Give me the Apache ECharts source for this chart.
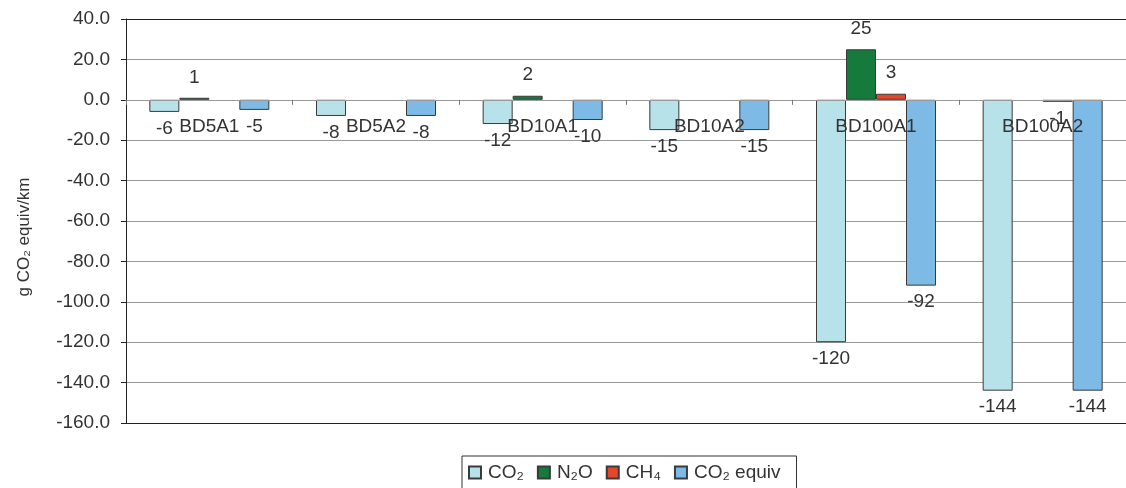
<!DOCTYPE html>
<html>
<head>
<meta charset="utf-8">
<title>CO₂ equivalent emissions per km</title>
<script src="https://cdn.jsdelivr.net/npm/echarts@6/dist/echarts.min.js"></script>
<style>
  html, body { margin: 0; padding: 0; background: #fff; }
  #chart { width: 1126px; height: 488px; }
</style>
</head>
<body>
<div id="chart"></div>
<script>
// Scenarios along the category axis
const categories = ['BD5A1', 'BD5A2', 'BD10A1', 'BD10A2', 'BD100A1', 'BD100A2'];

// Emissions by gas, g CO₂ equiv/km (null = nothing plotted)
const co2Values      = [-6, -8, -12, -15, -120, -144];
const n2oValues      = [1, null, 2, null, 25, null];
const ch4Values      = [null, null, null, null, 3, -1];
const co2EquivValues = [-5, -8, -10, -15, -92, -144];

// Value axis range
const yMin = -160;
const yMax = 40;
const yStep = 20;

const FONT = '"Liberation Sans", Arial, sans-serif';
const TEXT = '#333';

const GRID_TOP = 19;
const GRID_HEIGHT = 404;
// Shift the category axis up from the bottom edge to the zero line
const zeroOffset = -GRID_HEIGHT * (0 - yMin) / (yMax - yMin);

// Labels sit above positive bars and below negative ones
function toItems(values) {
  return values.map(v => v == null ? null : {
    value: v,
    label: { position: v < 0 ? 'bottom' : 'top', distance: v < 0 ? 7 : 11 }
  });
}

function barSeries(name, values, color) {
  return {
    name: name,
    type: 'bar',
    data: toItems(values),
    barGap: '0%',
    barCategoryGap: '28%',
    itemStyle: { color: color, borderColor: '#3a3a3a', borderWidth: 1 },
    label: {
      show: true,
      formatter: '{c}',
      color: TEXT,
      fontFamily: FONT,
      fontSize: 19
    }
  };
}

// Plain dark rule along the top or bottom edge of the plot
function edgeAxis(position) {
  return {
    type: 'category',
    data: categories,
    position: position,
    axisLine: { show: true, onZero: false, lineStyle: { color: '#222', width: 1 } },
    axisTick: { show: false },
    axisLabel: { show: false },
    splitLine: { show: false }
  };
}

const chart = echarts.init(document.getElementById('chart'), null, { renderer: 'canvas' });

chart.setOption({
  animation: false,
  backgroundColor: '#fff',
  grid: {
    left: 126,
    top: GRID_TOP,
    width: 1005,
    height: GRID_HEIGHT
  },
  legend: {
    left: 462,
    top: 456,
    padding: [7, 16, 14, 6],
    itemGap: 13,
    itemWidth: 12,
    itemHeight: 12,
    icon: 'rect',
    borderColor: '#333',
    borderWidth: 1,
    textStyle: { color: TEXT, fontFamily: FONT, fontSize: 19, padding: [0, 0, 0, 2] },
    data: ['CO₂', 'N₂O', 'CH₄', 'CO₂ equiv']
  },
  xAxis: [
    {
      type: 'category',
      data: categories,
      position: 'bottom',
      offset: zeroOffset,
      z: 10,
      axisLine: { onZero: false, lineStyle: { color: '#999', width: 1 } },
      axisTick: { show: true, length: 5, lineStyle: { color: '#777' } },
      axisLabel: { color: TEXT, fontFamily: FONT, fontSize: 19, margin: 17 },
      splitLine: { show: false }
    },
    edgeAxis('top'),
    edgeAxis('bottom')
  ],
  yAxis: {
    type: 'value',
    min: yMin,
    max: yMax,
    interval: yStep,
    name: 'g CO₂ equiv/km',
    nameLocation: 'middle',
    nameGap: 93,
    nameTextStyle: { color: TEXT, fontFamily: FONT, fontSize: 17, padding: [0, 32, 0, 0] },
    axisLine: { show: true, lineStyle: { color: '#222', width: 1 } },
    axisTick: { show: true, length: 5, lineStyle: { color: '#222' } },
    axisLabel: {
      color: TEXT,
      fontFamily: FONT,
      fontSize: 19,
      margin: 16,
      formatter: v => v.toFixed(1)
    },
    splitLine: { show: true, lineStyle: { color: '#999', width: 1 } }
  },
  series: [
    barSeries('CO₂', co2Values, '#b8e2e9'),
    barSeries('N₂O', n2oValues, '#157a3b'),
    barSeries('CH₄', ch4Values, '#e8462a'),
    barSeries('CO₂ equiv', co2EquivValues, '#7dbbe6')
  ]
});
</script>
</body>
</html>
